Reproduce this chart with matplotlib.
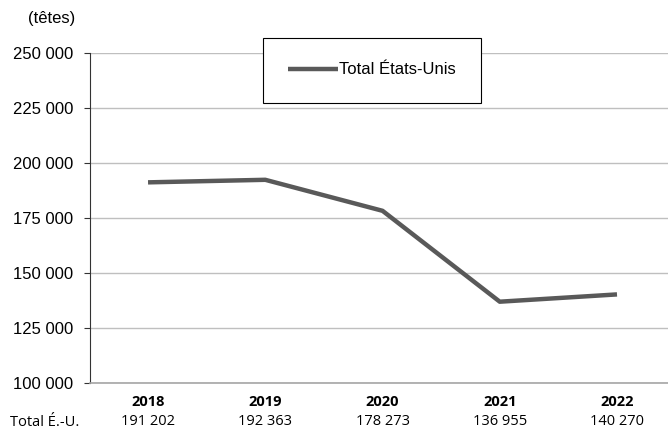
import matplotlib.pyplot as plt
from matplotlib.ticker import FuncFormatter

years = ["2018", "2019", "2020", "2021", "2022"]
totals = [191202, 192363, 178273, 136955, 140270]
row_label = "Total É.-U."
series_label = "Total États-Unis"

plt.rcParams['font.family'] = ['Liberation Sans', 'DejaVu Sans']

fig = plt.figure(figsize=(6.68, 4.33), dpi=100)
ax = fig.add_axes([90 / 668, 1 - 383 / 433, 1 - 90 / 668, 330 / 433])

x = list(range(len(years)))
ax.plot(x, totals, color="#595959", linewidth=3.2, solid_capstyle="butt",
        label=series_label)

ax.set_ylim(100000, 250000)
ax.set_xlim(-0.495, 4.435)
ax.set_yticks(range(100000, 250001, 25000))
ax.yaxis.set_major_formatter(FuncFormatter(lambda v, p: f"{int(v):,}".replace(",", " ")))
ax.tick_params(axis="y", labelsize=12, length=4, color="#333333", pad=8)
ax.set_xticks([])
ax.grid(axis="y", color="#bfbfbf", linewidth=1)
ax.set_axisbelow(True)
for s in ["top", "right"]:
    ax.spines[s].set_visible(False)
ax.spines["left"].set_color("#333333")
ax.spines["bottom"].set_color("#a6a6a6")
ax.spines["bottom"].set_linewidth(1.2)

# table below axis
cond = ["Open Sans", "DejaVu Sans"]
for i, (yr, val) in enumerate(zip(years, totals)):
    ax.text(i, -0.058, yr, transform=ax.get_xaxis_transform(), ha="center",
            va="center", fontsize=10.5, fontweight="bold", family=cond)
    ax.text(i, -0.118, f"{val:,}".replace(",", " "), transform=ax.get_xaxis_transform(),
            ha="center", va="center", fontsize=10.5, family=cond)
fig.text(10 / 668, 1 - 422 / 433, row_label, ha="left", va="center", fontsize=10.5,
         family=cond)

fig.text(28 / 668, 1 - 19 / 433, "(têtes)", ha="left", va="center", fontsize=12)

leg = ax.legend(loc="center", bbox_to_anchor=(372 / 668, 1 - 70 / 433),
                bbox_transform=fig.transFigure, fontsize=12, frameon=True,
                fancybox=False, handlelength=3.0, handletextpad=0.1,
                borderpad=1.5, borderaxespad=0)
leg.get_frame().set_edgecolor("#000000")
leg.get_frame().set_linewidth(0.8)
leg.get_frame().set_alpha(1)

fig.savefig("out.png", dpi=100)
